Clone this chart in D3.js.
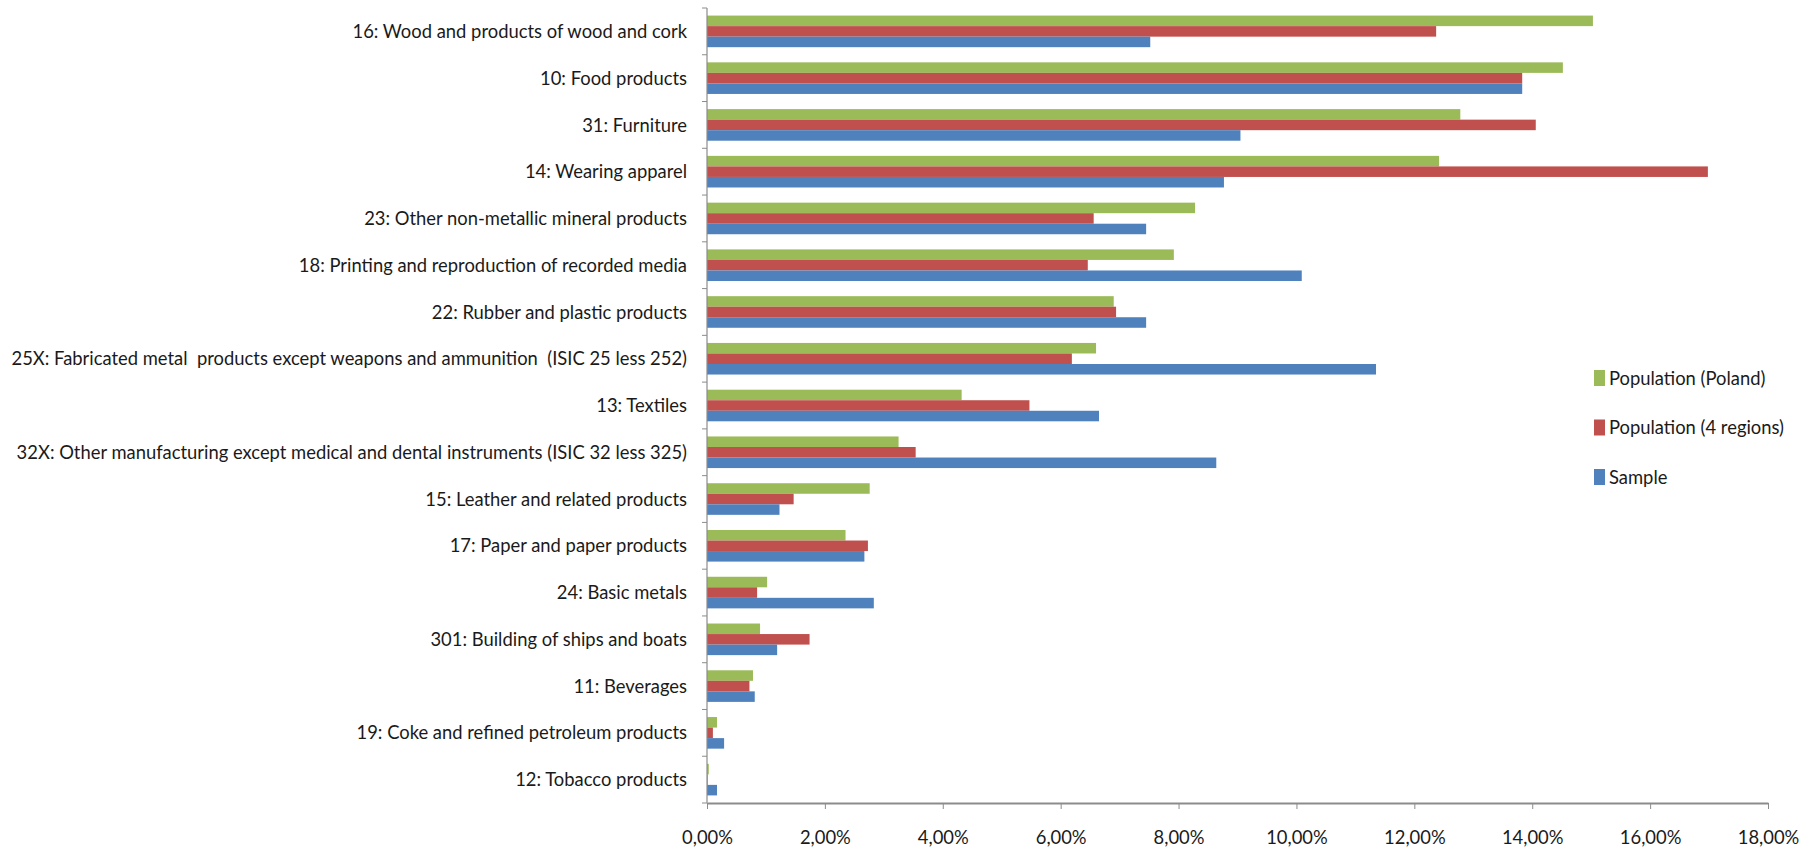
<!DOCTYPE html>
<html>
<head>
<meta charset="utf-8">
<script src="https://cdn.jsdelivr.net/npm/d3@7"></script>
<style>
  body{margin:0;background:#fff}
  text{font-family:Lato,"Open Sans",sans-serif;fill:#1a1a1a}
</style>
</head>
<body>
<div id="chart"></div>
<script>
const categories = [
  "16: Wood and products of wood and cork",
  "10: Food products",
  "31: Furniture",
  "14: Wearing apparel",
  "23: Other non-metallic mineral products",
  "18: Printing and reproduction of recorded media",
  "22: Rubber and plastic products",
  "25X: Fabricated metal  products except weapons and ammunition  (ISIC 25 less 252)",
  "13: Textiles",
  "32X: Other manufacturing except medical and dental instruments (ISIC 32 less 325)",
  "15: Leather and related products",
  "17: Paper and paper products",
  "24: Basic metals",
  "301: Building of ships and boats",
  "11: Beverages",
  "19: Coke and refined petroleum products",
  "12: Tobacco products"
]
const poland  = [15.03,14.52,12.78,12.42,8.28,7.92,6.90,6.60,4.32,3.25,2.76,2.35,1.02,0.90,0.78,0.17,0.03]
const regions = [12.37,13.83,14.06,16.98,6.56,6.46,6.94,6.19,5.47,3.54,1.47,2.73,0.85,1.74,0.72,0.10,0.01]
const sample  = [7.52,13.83,9.05,8.77,7.45,10.09,7.45,11.35,6.65,8.64,1.23,2.67,2.83,1.19,0.81,0.29,0.17]
const seriesNames = ["Population (Poland)","Population (4 regions)","Sample"]
const seriesColors = ["#9BBB59","#C0504D","#4F81BD"]
const xTicks = [0,2,4,6,8,10,12,14,16,18]

drawChart("#chart")

function drawChart(id){
  const canvas = createCanvas()
  const svg = d3.select(id).append("svg").attr("width",canvas.width).attr("height",canvas.height)
  const sc = addScales(canvas)
  addBars(svg,sc)
  const squeeze = addAxes(svg,sc,canvas)
  addLegend(svg,squeeze)
}

function createCanvas(){
  return {width:1812,height:852,margin:{top:8,right:44,bottom:49,left:707}}
}

function addScales(canvas){
  const xScale = d3.scaleLinear().domain([0,18])
    .range([canvas.margin.left,canvas.width - canvas.margin.right])
  const yScale = d3.scaleBand().domain(categories)
    .range([canvas.margin.top,canvas.height - canvas.margin.bottom])
  const inner = d3.scaleBand().domain(seriesNames).range([0,yScale.bandwidth()]).paddingOuter(0.72)
  return {xScale,yScale,inner}
}

function addBars(svg,sc){
  const all = [poland,regions,sample]
  const rows = []
  categories.forEach((c,i) => {
    seriesNames.forEach((s,j) => rows.push({cat:c,series:s,value:all[j][i],color:seriesColors[j]}))
  })
  svg.append("g").selectAll("rect").data(rows).enter().append("rect")
    .attr("x",sc.xScale(0))
    .attr("y",d => sc.yScale(d.cat) + sc.inner(d.series))
    .attr("width",d => sc.xScale(d.value) - sc.xScale(0))
    .attr("height",sc.inner.bandwidth())
    .attr("fill",d => d.color)
}

// the source font is a narrow one, so squeeze every label by the same factor
function squeezeText(sel,k){
  sel.each(function(){
    const t = d3.select(this)
    const x = +t.attr("x") || 0
    t.attr("transform",`translate(${x},0) scale(${k},1) translate(${-x},0)`)
  })
}

function addAxes(svg,sc,canvas){
  const loc = d3.formatLocale({decimal:",",thousands:".",grouping:[3],currency:["","%"]})
  const fmt = v => loc.format(".2f")(v) + "%"
  const x0 = sc.xScale(0)

  const ticksY = categories.map(c => sc.yScale(c)).concat([canvas.height - canvas.margin.bottom])
  const yAxis = svg.append("g")
  yAxis.append("line").attr("x1",x0).attr("x2",x0)
    .attr("y1",canvas.margin.top).attr("y2",canvas.height - canvas.margin.bottom)
    .attr("stroke","#8c8c8c").attr("stroke-width",1.2)
  yAxis.selectAll(".yt").data(ticksY).enter().append("line")
    .attr("x1",x0 - 5).attr("x2",x0)
    .attr("y1",d => d).attr("y2",d => d).attr("stroke","#8c8c8c")
  const labels = yAxis.selectAll(".lbl").data(categories).enter().append("text")
    .attr("x",x0 - 20)
    .attr("y",d => sc.yScale(d) + sc.yScale.bandwidth()/2)
    .attr("dy","0.35em").attr("text-anchor","end").attr("font-size","19px")
    .style("white-space","pre")
    .text(d => d)

  let longest = 0
  labels.each(function(){ longest = Math.max(longest,this.getComputedTextLength()) })
  const k = Math.min(1,676/longest)
  squeezeText(labels,k)

  const xAxis = svg.append("g").attr("transform",`translate(0,${canvas.height - canvas.margin.bottom})`)
    .call(d3.axisBottom(sc.xScale).tickValues(xTicks).tickFormat(fmt).tickSize(6).tickSizeOuter(0).tickPadding(22))
  xAxis.select(".domain").attr("stroke","#8c8c8c").attr("stroke-width",2)
  xAxis.selectAll(".tick line").attr("stroke","#8c8c8c")
  const tl = xAxis.selectAll("text").attr("font-size","19px").attr("fill","#1a1a1a")
    .style("font-family","Lato,'Open Sans',sans-serif")
  squeezeText(tl,k)
  return k
}

function addLegend(svg,k){
  const lg = svg.append("g").attr("transform","translate(1594,378)")
  seriesNames.forEach((s,i) => {
    lg.append("rect").attr("x",0).attr("y",i*49.5 - 8).attr("width",11).attr("height",16).attr("fill",seriesColors[i])
    const t = lg.append("text").attr("x",15).attr("y",i*49.5).attr("dy","0.35em").attr("font-size","19px").text(s)
    squeezeText(t,k)
  })
}
</script>
</body>
</html>
